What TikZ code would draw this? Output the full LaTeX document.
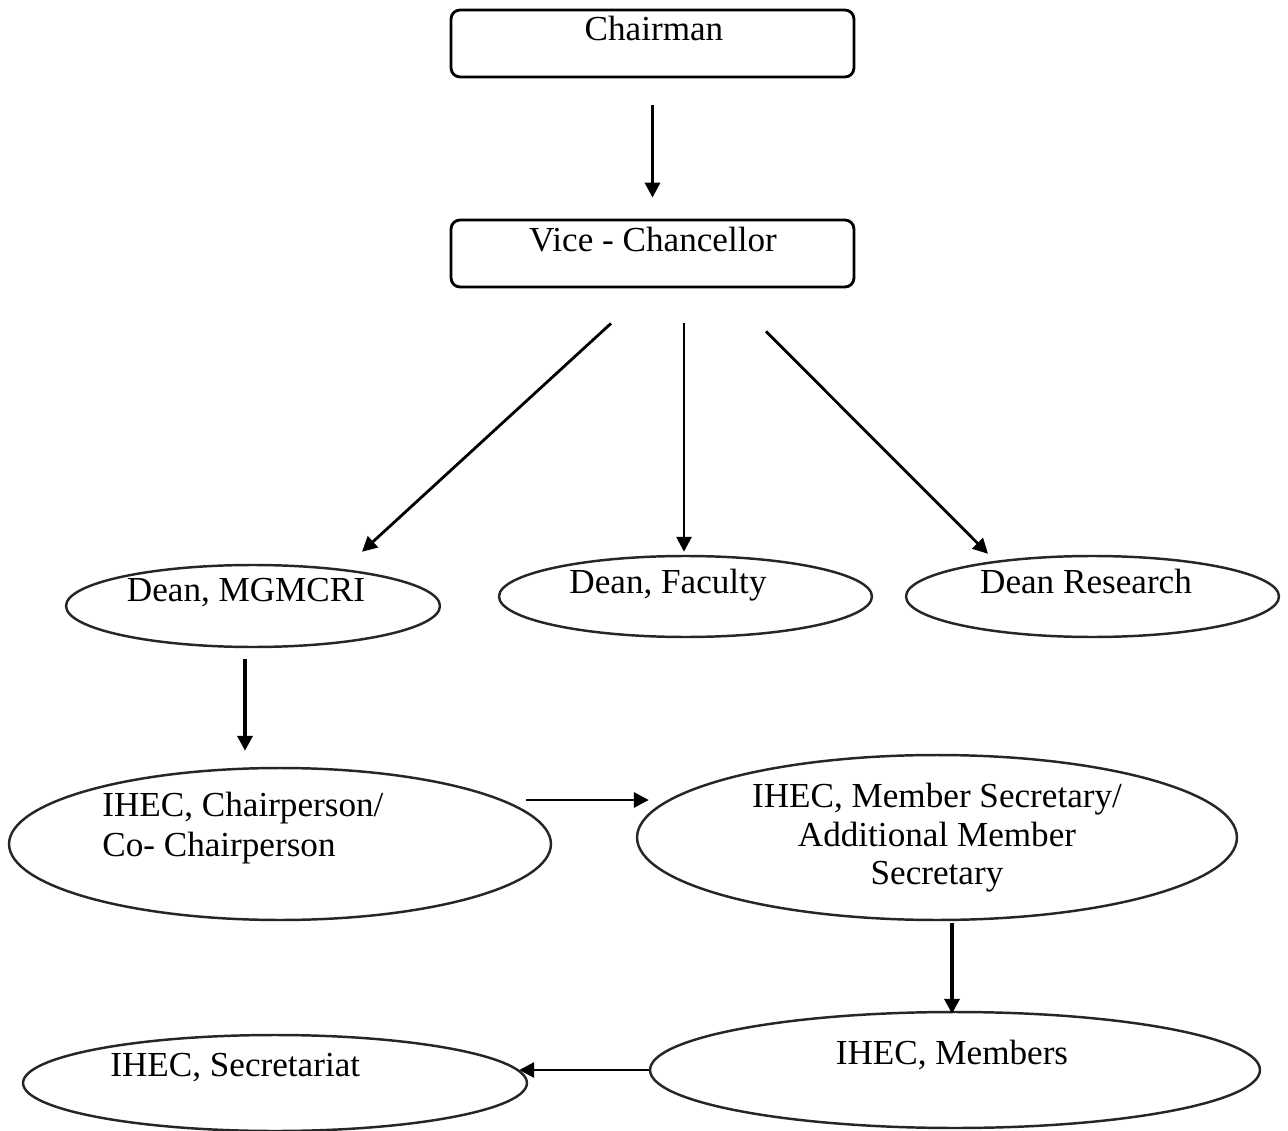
\documentclass[tikz,border=0pt]{standalone}
\usepackage{fontspec}
\setmainfont{Liberation Serif}
\usetikzlibrary{shapes.geometric,arrows.meta,calc}
\tikzset{
  boxshape/.style={draw=black, line width=1.6pt, rounded corners=0.18cm, inner sep=0pt},
  ellshape/.style={ellipse, draw=black!85, line width=1.4pt, inner sep=0pt},
  lbl/.style={font=\fontsize{20}{24}\selectfont, inner sep=0pt, anchor=base},
  lblw/.style={font=\fontsize{20}{24}\selectfont, inner sep=0pt, anchor=base west},
  arr/.style={-{Triangle[length=8.5pt,width=8.5pt]}, line width=2pt},
  arrthin/.style={-{Triangle[length=8.5pt,width=8.5pt]}, line width=1.6pt}
}
\begin{document}
\begin{tikzpicture}[x=0.02cm,y=-0.02cm]
\useasboundingbox[fill=white] (0,0) rectangle (1288,1131);

% shapes
\node[boxshape, minimum width=8.06cm, minimum height=1.34cm] (chair) at (652.5,43.5) {};
\node[boxshape, minimum width=8.06cm, minimum height=1.34cm] (vc) at (652.5,253.5) {};
\node[ellshape, minimum width=7.48cm, minimum height=1.64cm] (dm) at (253,606) {};
\node[ellshape, minimum width=7.46cm, minimum height=1.62cm] (df) at (685.5,596.5) {};
\node[ellshape, minimum width=7.46cm, minimum height=1.62cm] (dr) at (1092.5,596.5) {};
\node[ellshape, minimum width=10.84cm, minimum height=3.04cm] (cp) at (280,844) {};
\node[ellshape, minimum width=12cm, minimum height=3.3cm] (ms) at (937,837.5) {};
\node[ellshape, minimum width=12.2cm, minimum height=2.32cm] (mem) at (955,1070) {};
\node[ellshape, minimum width=10.08cm, minimum height=1.92cm] (sec) at (275,1083) {};

% texts
\node[lbl] (chairT) at (654,41) {Chairman};
\node[lbl] (vcT) at (653,252) {Vice - Chancellor};
\node[lbl] (dmT) at (246,602) {Dean, MGMCRI};
\node[lbl] (dfT) at (668,593) {Dean, Faculty};
\node[lbl] (drT) at (1086,593) {Dean Research};
\node[lblw] (cpT1) at (102,816) {IHEC, Chairperson/};
\node[lblw] (cpT2) at (102,856) {Co- Chairperson};
\node[lbl] (msT1) at (937,807) {IHEC, Member Secretary/};
\node[lbl] (msT2) at (937,846) {Additional Member};
\node[lbl] (msT3) at (937,884) {Secretary};
\node[lbl] (memT) at (952,1064) {IHEC, Members};
\node[lblw] (secT) at (110,1076) {IHEC, Secretariat};

% connectors
\draw[arr] ($(chair.south)+(0,27)$) -- ($(vc.north)+(0,-21)$);
\draw[arrthin] ($(vc.south)+(-41.5,35)$) -- ($(dm.north)+(109,-12)$);
\draw[arrthin] ($(df.north |- vc.south)+(-1.5,35)$) -- ($(df.north)+(-1.5,-3)$);
\draw[arrthin] ($(vc.south)+(113.5,43)$) -- ($(dr.north)+(-104.5,-1)$);
\draw[arr] ($(dm.south)+(-8,11)$) -- ($(cp.north)+(-35,-16)$);
\draw[arrthin] ($(cp.east)+(-26,-44)$) -- ($(ms.west)+(13,-37.5)$);
\draw[arr] ($(ms.south)+(15,2)$) -- ($(mem.north)+(-3,3)$);
\draw[arrthin] (mem.west) -- ($(sec.east |- mem.west)+(-9,0)$);
\end{tikzpicture}
\end{document}
